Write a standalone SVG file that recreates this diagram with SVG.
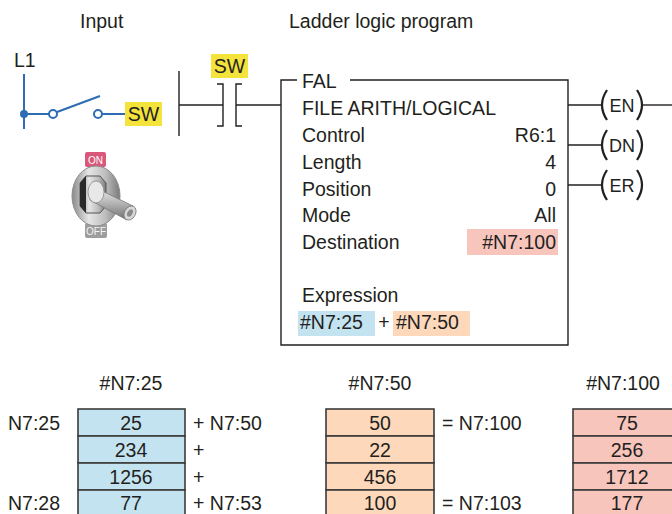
<svg xmlns="http://www.w3.org/2000/svg" width="672" height="514" viewBox="0 0 672 514">
  <style>
    text { font-family: "Liberation Sans", Arial, sans-serif; font-size: 19.5px; fill: #231f20; }
    .wire { stroke: #231f20; stroke-width: 1.4; fill: none; }
    .bwire { stroke: #2e6db4; stroke-width: 2; fill: none; }
    .mid { text-anchor: middle; }
    .end { text-anchor: end; }
    .cell { stroke: #3b3b3b; stroke-width: 1.6; }
    .blue { fill: #c3e3f1; }
    .orange { fill: #fdd8bb; }
    .pink { fill: #f8c5bd; }
    .yellow { fill: #f3e33a; }
    .paren { stroke: #231f20; stroke-width: 2.2; fill: none; }
  </style>
  <defs>
    <linearGradient id="metal" x1="0" y1="0" x2="1" y2="0">
      <stop offset="0" stop-color="#8a8a8a"/>
      <stop offset="0.35" stop-color="#e6e6e6"/>
      <stop offset="0.7" stop-color="#bdbdbd"/>
      <stop offset="1" stop-color="#7a7a7a"/>
    </linearGradient>
    <linearGradient id="lever" x1="0" y1="0" x2="0" y2="1">
      <stop offset="0" stop-color="#f2f2f2"/>
      <stop offset="0.5" stop-color="#b5b5b5"/>
      <stop offset="1" stop-color="#707070"/>
    </linearGradient>
  </defs>

  <!-- headings -->
  <text x="80" y="28">Input</text>
  <text x="289" y="28">Ladder logic program</text>

  <!-- input wiring -->
  <g id="input-circuit">
    <text x="14" y="67">L1</text>
    <line class="bwire" x1="24" y1="74" x2="24" y2="129"/>
    <circle cx="24" cy="114" r="4" fill="#2e6db4"/>
    <line class="bwire" x1="24" y1="114" x2="49" y2="114"/>
    <circle cx="53" cy="114" r="4" fill="#fff" stroke="#2e6db4" stroke-width="2"/>
    <line class="bwire" x1="57" y1="112" x2="100" y2="96"/>
    <circle cx="98" cy="114" r="4" fill="#fff" stroke="#2e6db4" stroke-width="2"/>
    <line class="bwire" x1="102" y1="114" x2="125" y2="114"/>
    <rect class="yellow" x="125" y="102" width="37" height="24"/>
    <text x="143.5" y="121" class="mid">SW</text>
  </g>

  <!-- toggle switch -->
  <g id="toggle-switch">
    <rect x="85" y="152" width="21" height="15" rx="2" fill="#d9587a"/>
    <text x="95.5" y="164" class="mid" style="font-size:10px;fill:#fff">ON</text>
    <rect x="85" y="223" width="22" height="15" rx="2" fill="#9d9d9d"/>
    <text x="96" y="235" class="mid" style="font-size:10px;fill:#f2f2f2">OFF</text>
    <ellipse cx="96" cy="196" rx="24" ry="30" fill="url(#metal)" stroke="#8c8c8c" stroke-width="1"/>
    <polygon points="80,183 86,176 100,176 106,183 106,206 100,213 86,213 80,206" fill="url(#metal)" stroke="#555" stroke-width="1"/>
    <path d="M80,183 L86,176 L86,213 L80,206 Z" fill="#2a2a2a"/>
    <path d="M92,186 L133,206 L127,220 L90,200 Z" fill="url(#lever)" stroke="#777" stroke-width="0.8"/>
    <ellipse cx="130" cy="213" rx="5.5" ry="7.5" transform="rotate(30 130 213)" fill="#d8d8d8" stroke="#777" stroke-width="0.8"/>
    <ellipse cx="130" cy="213" rx="2.5" ry="4" transform="rotate(30 130 213)" fill="#8a8a8a"/>
    <ellipse cx="96" cy="192" rx="8" ry="11" fill="#e8e8e8" stroke="#888" stroke-width="0.8"/>
  </g>

  <!-- ladder rung -->
  <g id="connectors">
    <line class="wire" x1="179" y1="71" x2="179" y2="136"/>
    <line class="wire" x1="179" y1="105" x2="223" y2="105"/>
    <line class="wire" x1="236" y1="105" x2="281" y2="105"/>
    <line class="wire" x1="568" y1="105" x2="602" y2="105"/>
    <line class="wire" x1="568" y1="145" x2="602" y2="145"/>
    <line class="wire" x1="568" y1="185" x2="602" y2="185"/>
    <line class="wire" x1="642" y1="105" x2="672" y2="105"/>
  </g>

  <g id="contact-sw">
    <rect class="yellow" x="211" y="54" width="37" height="24"/>
    <text x="229.5" y="73" class="mid">SW</text>
    <path class="wire" d="M217,84 H223 V126 H217" stroke-width="1.8"/>
    <path class="wire" d="M242,84 H236 V126 H242" stroke-width="1.8"/>
  </g>

  <g id="fal-block">
    <path class="wire" d="M297,80 H281 V345 H568 V80 H350"/>
    <text x="302" y="88">FAL</text>
    <text x="302" y="115">FILE ARITH/LOGICAL</text>
    <text x="302" y="142">Control</text>
    <text x="556" y="142" class="end">R6:1</text>
    <text x="302" y="169">Length</text>
    <text x="556" y="169" class="end">4</text>
    <text x="302" y="196">Position</text>
    <text x="556" y="196" class="end">0</text>
    <text x="302" y="222">Mode</text>
    <text x="556" y="222" class="end">All</text>
    <text x="302" y="249">Destination</text>
    <rect class="pink" x="467" y="229" width="91" height="26"/>
    <text x="556" y="249" class="end">#N7:100</text>
    <text x="302" y="302">Expression</text>
    <rect class="blue" x="298" y="311" width="77" height="25"/>
    <text x="300" y="329">#N7:25</text>
    <text x="384" y="329" class="mid">+</text>
    <rect class="orange" x="393" y="311" width="77" height="25"/>
    <text x="396" y="329">#N7:50</text>
  </g>

  <g id="coil-en">
    <path class="paren" d="M607,90 Q597,105 607,120"/>
    <path class="paren" d="M637,90 Q647,105 637,120"/>
    <text x="622" y="112" class="mid" style="font-size:18px">EN</text>
  </g>
  <g id="coil-dn">
    <path class="paren" d="M607,130 Q597,145 607,160"/>
    <path class="paren" d="M637,130 Q647,145 637,160"/>
    <text x="622" y="152" class="mid" style="font-size:18px">DN</text>
  </g>
  <g id="coil-er">
    <path class="paren" d="M607,170 Q597,185 607,200"/>
    <path class="paren" d="M637,170 Q647,185 637,200"/>
    <text x="622" y="192" class="mid" style="font-size:18px">ER</text>
  </g>

  <!-- source file #N7:25 -->
  <g id="file-n7-25">
    <text x="131" y="390" class="mid">#N7:25</text>
    <rect class="blue cell" x="78" y="409" width="107" height="27"/>
    <rect class="blue cell" x="78" y="436" width="107" height="27"/>
    <rect class="blue cell" x="78" y="463" width="107" height="27"/>
    <rect class="blue cell" x="78" y="490" width="107" height="30"/>
    <text x="131" y="430" class="mid">25</text>
    <text x="131" y="457" class="mid">234</text>
    <text x="131" y="484" class="mid">1256</text>
    <text x="131" y="510" class="mid">77</text>
    <text x="8" y="430">N7:25</text>
    <text x="8" y="510">N7:28</text>
    <text x="193" y="430">+ N7:50</text>
    <text x="193" y="457">+</text>
    <text x="193" y="484">+</text>
    <text x="193" y="510">+ N7:53</text>
  </g>

  <!-- source file #N7:50 -->
  <g id="file-n7-50">
    <text x="380" y="390" class="mid">#N7:50</text>
    <rect class="orange cell" x="326" y="409" width="108" height="27"/>
    <rect class="orange cell" x="326" y="436" width="108" height="27"/>
    <rect class="orange cell" x="326" y="463" width="108" height="27"/>
    <rect class="orange cell" x="326" y="490" width="108" height="30"/>
    <text x="380" y="430" class="mid">50</text>
    <text x="380" y="457" class="mid">22</text>
    <text x="380" y="484" class="mid">456</text>
    <text x="380" y="510" class="mid">100</text>
    <text x="442" y="430">= N7:100</text>
    <text x="442" y="510">= N7:103</text>
  </g>

  <!-- destination file #N7:100 -->
  <g id="file-n7-100">
    <text x="623" y="390" class="mid">#N7:100</text>
    <rect class="pink cell" x="573" y="409" width="108" height="27"/>
    <rect class="pink cell" x="573" y="436" width="108" height="27"/>
    <rect class="pink cell" x="573" y="463" width="108" height="27"/>
    <rect class="pink cell" x="573" y="490" width="108" height="30"/>
    <text x="627" y="430" class="mid">75</text>
    <text x="627" y="457" class="mid">256</text>
    <text x="627" y="484" class="mid">1712</text>
    <text x="627" y="510" class="mid">177</text>
  </g>
</svg>
